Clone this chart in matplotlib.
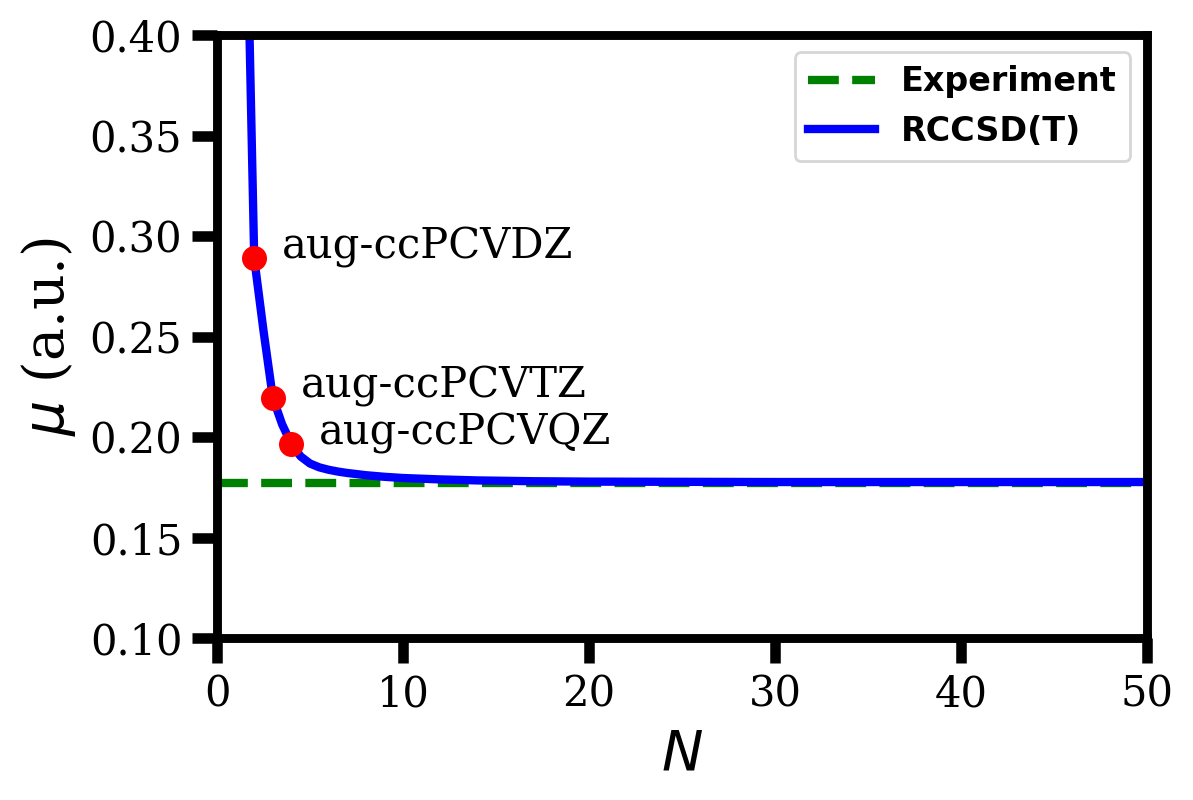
import matplotlib
matplotlib.use("Agg")
import matplotlib.pyplot as plt

# ---- data ----
basis_N = [2, 3, 4]
basis_mu = [0.289, 0.2198, 0.1967]
basis_labels = ["aug-ccPCVDZ", "aug-ccPCVTZ", "aug-ccPCVQZ"]

curve_N = [1, 2, 2.5, 3, 3.5, 4, 4.5, 5, 5.5, 6, 6.5, 7, 8, 9, 10, 12, 14,
           17, 20, 25, 30, 40, 50]
curve_mu = [0.73, 0.289, 0.253, 0.2198, 0.2065, 0.1967, 0.1905, 0.1870,
            0.1851, 0.1839, 0.1830, 0.1823, 0.1812, 0.1804, 0.1798, 0.1791,
            0.1786, 0.1782, 0.1780, 0.1779, 0.1778, 0.1778, 0.1778]

experiment_mu = 0.1773

x_ticks = [0, 10, 20, 30, 40, 50]
y_ticks = [0.10, 0.15, 0.20, 0.25, 0.30, 0.35, 0.40]

plt.rcParams['font.family'] = ['DejaVu Serif']
plt.rcParams['mathtext.fontset'] = 'dejavusans'

fig = plt.figure(figsize=(1193 / 200, 800 / 200), dpi=200)
ax = fig.add_axes([0.1819, 0.2019, 0.9615 - 0.1819, 0.956 - 0.2019])

ax.axhline(experiment_mu, color='green', ls='--', lw=3, label='Experiment')
ax.plot(curve_N, curve_mu, color='blue', lw=3, label='RCCSD(T)')
ax.plot(basis_N, basis_mu, 'o', color='red', ms=8, zorder=5)
for n, m, lab in zip(basis_N, basis_mu, basis_labels):
    ax.text(n + 1.5, m, lab, fontsize=15)

ax.set_xlim(0, 50)
ax.set_ylim(0.10, 0.40)
ax.set_xticks(x_ticks)
ax.set_yticks(y_ticks)
ax.set_yticklabels([f"{v:.2f}" for v in y_ticks])
ax.tick_params(axis='both', labelsize=15, length=9, width=3.8, direction='out')
for s in ax.spines.values():
    s.set_linewidth(3.2)

ax.set_xlabel(r'$N$', fontsize=20)
ax.set_ylabel(r'$\mu$ (a.u.)', fontsize=20)

ax.legend(loc='upper right', prop={'family': 'DejaVu Sans', 'weight': 'bold', 'size': 12})

fig.savefig('out.png', dpi=200)
